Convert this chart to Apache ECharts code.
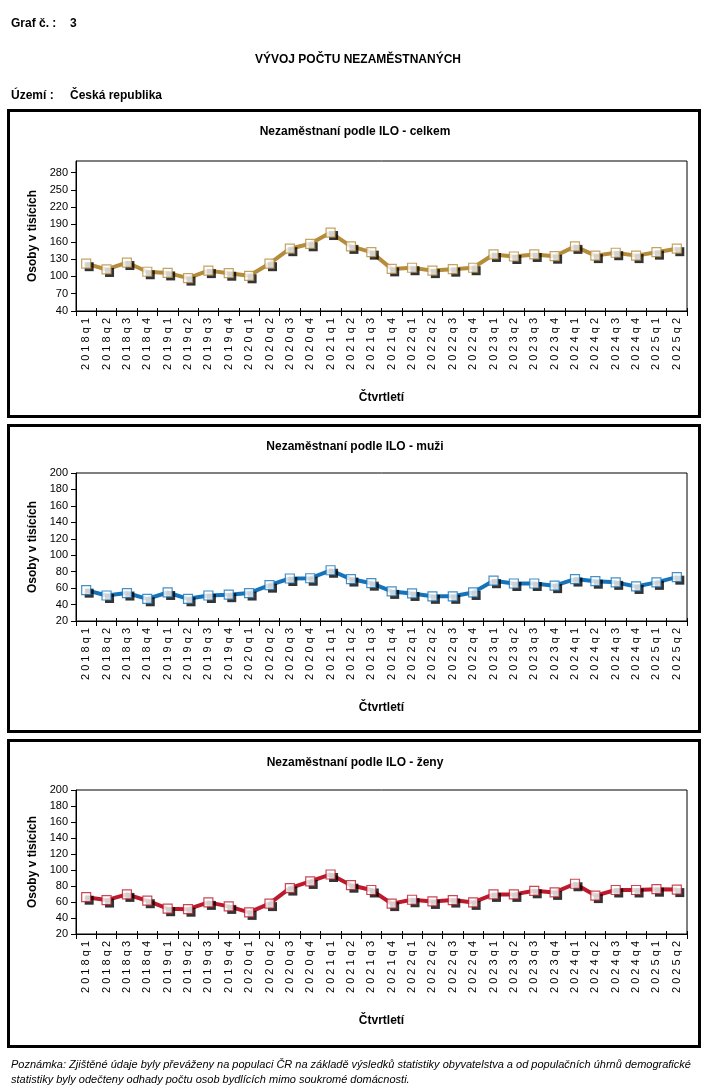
<!DOCTYPE html>
<html><head><meta charset="utf-8">
<script src="https://cdn.jsdelivr.net/npm/echarts@6/dist/echarts.min.js"></script>
<style>html,body{margin:0;padding:0;background:#fff}#c{width:708px;height:1089px}</style>
</head><body><div id="c"></div>
<script>
const quarters = ['2018q1','2018q2','2018q3','2018q4','2019q1','2019q2','2019q3','2019q4','2020q1','2020q2','2020q3','2020q4','2021q1','2021q2','2021q3','2021q4','2022q1','2022q2','2022q3','2022q4','2023q1','2023q2','2023q3','2023q4','2024q1','2024q2','2024q3','2024q4','2025q1','2025q2'];
const totalValues = [122,112,124,108,106,97,110,105.5,101,122,148,156.5,176,152,142,113,115,110,112.5,115,138,134.5,138,135,152,136,141,136,142,148];
const menValues = [57.5,51,54,47,54.7,47,51,52,54,63.6,71.7,72,81.7,71,66,56,53.5,50,50,54.7,69,65.6,65.6,63,71,68.4,67,62,67,73.3];
const womenValues = [66,62.4,69.5,61.6,51.6,51,59.5,54.5,47,58,77.4,85.7,94.4,81,75,58,62.8,60.7,62.4,59.5,69.5,69.5,74,72,82.8,68,75,75,76,75.5];
const yTicksTotal = [40,70,100,130,160,190,220,250,280];
const yTicksSex = [20,40,60,80,100,120,140,160,180,200];
const chartTitles = ['Nezaměstnaní podle ILO - celkem','Nezaměstnaní podle ILO - muži','Nezaměstnaní podle ILO - ženy'];
const yAxisName = 'Osoby v tisících';
const xAxisName = 'Čtvrtletí';

const FONT = '"Liberation Sans", Arial, sans-serif';
const panels = [
  {top:161, height:150, min:40, max:300, ticks:yTicksTotal, data:totalValues, color:'#B48C3C', panelY:110.5, titleY:132},
  {top:473, height:148, min:20, max:200, ticks:yTicksSex, data:menValues, color:'#1673B9', panelY:425.5, titleY:447},
  {top:790, height:144, min:20, max:200, ticks:yTicksSex, data:womenValues, color:'#BC1A2C', panelY:740.5, titleY:763}
];

const grid = [], xAxis = [], yAxis = [], series = [], graphic = [];
panels.forEach((p, i) => {
  grid.push({left:76, width:611, top:p.top, height:p.height, show:true, borderColor:'#000', borderWidth:1, containLabel:false});
  xAxis.push({
    type:'category', data:quarters, gridIndex:i, boundaryGap:true,
    axisLine:{show:true, lineStyle:{color:'#000', width:1}},
    axisTick:{show:true, length:5, interval:0, lineStyle:{color:'#000'}},
    axisLabel:{rotate:90, interval:0, fontSize:11, color:'#000', margin:7, fontFamily:FONT,
      formatter: v => v.split('').join(' ')},
    splitLine:{show:false},
    name:xAxisName, nameLocation:'middle', nameGap:81,
    nameTextStyle:{fontSize:12, fontWeight:'bold', color:'#000', fontFamily:FONT}
  });
  xAxis.push({
    type:'category', data:quarters, gridIndex:i, boundaryGap:true, position:'bottom',
    axisLine:{show:false}, axisTick:{show:true, inside:true, length:3, interval:0, lineStyle:{color:'#000'}},
    axisLabel:{show:false}, splitLine:{show:false}
  });
  yAxis.push({
    type:'value', gridIndex:i, min:p.min, max:p.max,
    axisLine:{show:true, lineStyle:{color:'#000'}},
    axisTick:{show:true, length:5, customValues:p.ticks, lineStyle:{color:'#000'}},
    axisLabel:{customValues:p.ticks, fontSize:11, color:'#000', margin:8, fontFamily:FONT},
    splitLine:{show:false},
    name:yAxisName, nameLocation:'middle', nameGap:31,
    nameTextStyle:{fontSize:12, fontWeight:'bold', color:'#000', fontFamily:FONT}
  });
  series.push({
    type:'line', xAxisIndex:2*i, yAxisIndex:i, data:p.data, showSymbol:false,
    lineStyle:{color:p.color, width:4}, emphasis:{disabled:true}, silent:true, z:2
  });
  series.push({
    type:'scatter', xAxisIndex:2*i, yAxisIndex:i, data:p.data,
    symbol:'rect', symbolSize:9, symbolOffset:[3, 3],
    itemStyle:{color:'#000'}, emphasis:{disabled:true}, silent:true, z:3
  });
  series.push({
    type:'scatter', xAxisIndex:2*i, yAxisIndex:i, data:p.data,
    symbol:'rect', symbolSize:9,
    itemStyle:{color:'#fff', borderColor:p.color, borderWidth:1.2},
    emphasis:{disabled:true}, silent:true, z:4
  });
  graphic.push({type:'rect', shape:{x:8.5, y:p.panelY, width:691, height:306}, style:{fill:'none', stroke:'#000', lineWidth:3}, silent:true});
  graphic.push({type:'text', style:{x:355, y:p.titleY, text:chartTitles[i], font:'bold 12px ' + FONT, fill:'#000', textAlign:'center', textVerticalAlign:'middle'}});
});

graphic.push({type:'text', style:{x:11, y:24, text:'Graf č. :', font:'bold 12px ' + FONT, fill:'#000', textVerticalAlign:'middle'}});
graphic.push({type:'text', style:{x:70, y:24, text:'3', font:'bold 12px ' + FONT, fill:'#000', textVerticalAlign:'middle'}});
graphic.push({type:'text', style:{x:358, y:60, text:'VÝVOJ POČTU NEZAMĚSTNANÝCH', font:'bold 12px ' + FONT, fill:'#000', textAlign:'center', textVerticalAlign:'middle'}});
graphic.push({type:'text', style:{x:11, y:96, text:'Území :', font:'bold 12px ' + FONT, fill:'#000', textVerticalAlign:'middle'}});
graphic.push({type:'text', style:{x:70, y:96, text:'Česká republika', font:'bold 12px ' + FONT, fill:'#000', textVerticalAlign:'middle'}});
graphic.push({type:'text', style:{x:11, y:1065, text:'Poznámka: Zjištěné údaje byly převáženy na populaci ČR na základě výsledků statistiky obyvatelstva a od populačních úhrnů demografické', font:'italic 11px ' + FONT, fill:'#000', textVerticalAlign:'middle'}});
graphic.push({type:'text', style:{x:11, y:1080, text:'statistiky byly odečteny odhady počtu osob bydlících mimo soukromé domácnosti.', font:'italic 11px ' + FONT, fill:'#000', textVerticalAlign:'middle'}});

const chart = echarts.init(document.getElementById('c'), null, {renderer:'canvas'});
chart.setOption({animation:false, backgroundColor:'#fff', grid, xAxis, yAxis, series, graphic});
</script></body></html>
